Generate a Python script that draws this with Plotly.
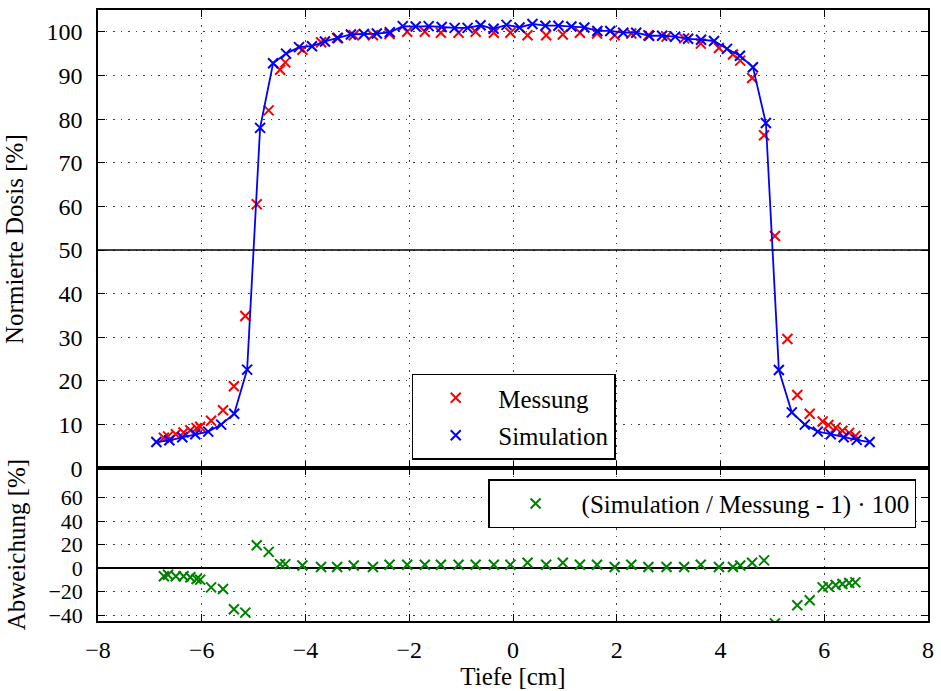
import plotly.graph_objects as go
from plotly.subplots import make_subplots

# ---------------- data ----------------
sim_x = [-6.875, -6.625, -6.375, -6.125, -5.875, -5.625, -5.375, -5.125,
         -4.875, -4.625, -4.375, -4.125, -3.875, -3.625, -3.375, -3.125,
         -2.875, -2.625, -2.375, -2.125, -1.875, -1.625, -1.375, -1.125,
         -0.875, -0.625, -0.375, -0.125,
         0.125, 0.375, 0.625, 0.875, 1.125, 1.375, 1.625, 1.875,
         2.125, 2.375, 2.625, 2.875, 3.125, 3.375, 3.625, 3.875,
         4.125, 4.375, 4.625, 4.875, 5.125, 5.375, 5.625, 5.875,
         6.125, 6.375, 6.625, 6.875]
sim_y = [6.0, 6.4, 7.1, 7.8, 8.4, 10.0, 12.5, 22.6,
         78.0, 92.8, 95.0, 96.5, 96.7, 97.8, 98.6, 99.4,
         99.5, 99.6, 99.9, 101.3, 101.2, 101.3, 101.1, 100.9,
         100.9, 101.5, 100.7, 101.6,
         101.0, 101.8, 101.4, 101.4, 101.2, 101.0, 100.2, 100.2,
         99.8, 99.8, 99.1, 99.1, 98.9, 98.4, 98.2, 97.9,
         96.1, 94.5, 91.9, 79.1, 22.5, 12.8, 10.0, 8.4,
         7.8, 7.1, 6.5, 6.0]

mess_x = [-6.73, -6.65, -6.50, -6.35, -6.22, -6.10, -6.03, -5.82, -5.59, -5.38,
          -5.16, -4.94, -4.71, -4.49, -4.39, -4.06, -3.70, -3.39, -3.07, -2.70,
          -2.38, -2.04, -1.70, -1.39, -1.05, -0.72, -0.37, -0.05,
          0.28, 0.64, 0.96, 1.29, 1.62, 1.96, 2.28, 2.61, 2.96, 3.30,
          3.62, 3.97, 4.24, 4.38, 4.61, 4.84, 5.05, 5.29, 5.48, 5.72,
          5.97, 6.08, 6.22, 6.35, 6.48, 6.60]
mess_y = [7.0, 7.3, 7.8, 8.2, 8.7, 9.2, 9.5, 10.9, 13.3, 18.8,
          34.9, 60.5, 82.0, 91.3, 93.0, 95.9, 97.6, 98.6, 99.2, 99.2,
          99.5, 100.0, 100.0, 99.8, 99.8, 100.0, 99.8, 99.8,
          99.2, 99.2, 99.4, 99.8, 99.6, 99.2, 99.6, 99.2, 98.9, 98.5,
          97.3, 96.3, 94.8, 93.4, 89.4, 76.3, 53.2, 29.6, 16.8, 12.5,
          10.7, 9.9, 9.3, 8.6, 8.1, 7.4]
dev_y = [-6.9, -5.7, -6.9, -6.9, -7.8, -9.2, -9.8, -16.4, -17.8, -35.0,
         -37.9, 19.5, 13.8, 3.4, 3.4, 2.3, 0.9, 0.9, 2.3, 0.9,
         2.9, 2.9, 2.9, 2.9, 2.9, 2.9, 2.9, 2.9,
         4.6, 2.9, 4.6, 2.9, 2.9, 0.9, 2.9, 0.9, 0.9, 0.9,
         2.9, 0.9, 0.9, 2.3, 4.6, 6.6, -47.0, -55.0, -31.6, -27.3,
         -16.4, -15.5, -14.4, -13.5, -12.6, -12.1]

x_ticks = [-8, -6, -4, -2, 0, 2, 4, 6, 8]
dose_ticks = [0, 10, 20, 30, 40, 50, 60, 70, 80, 90, 100]
dev_ticks = [-40, -20, 0, 20, 40, 60]

# ---------------- figure ----------------
FONT = "Liberation Serif, Times New Roman, Times, serif"
fig = make_subplots(rows=2, cols=1, shared_xaxes=True, vertical_spacing=0,
                    row_heights=[0.75, 0.25])

mk = dict(symbol="x-thin", size=10)

fig.add_trace(go.Scatter(x=mess_x, y=mess_y, mode="markers", name="Messung",
                         marker=dict(**mk, color="red", line=dict(color="red", width=2)),
                         legendgroup="a", legend="legend"), row=1, col=1)
fig.add_trace(go.Scatter(x=sim_x, y=sim_y, mode="lines", showlegend=False,
                         line=dict(color="blue", width=1.8)), row=1, col=1)
fig.add_trace(go.Scatter(x=sim_x, y=sim_y, mode="markers", name="Simulation",
                         marker=dict(**mk, color="blue", line=dict(color="blue", width=2)),
                         legendgroup="b", legend="legend"), row=1, col=1)
fig.add_trace(go.Scatter(x=mess_x, y=dev_y, mode="markers",
                         name="(Simulation / Messung - 1) · 100",
                         marker=dict(**mk, color="green", line=dict(color="green", width=2)),
                         legend="legend2"), row=2, col=1)

fig.add_hline(y=50, line=dict(color="black", width=1.6), row=1, col=1)

grid = dict(showgrid=True, gridcolor="rgba(0,0,0,0.75)", gridwidth=1, griddash="1.5px,6px")
axis_common = dict(showline=True, linecolor="black", linewidth=1.6, mirror="ticks",
                   ticks="inside", ticklen=7, tickwidth=1.2, tickcolor="black", **grid)
tickfont = dict(family=FONT, size=24, color="black")
titlefont = dict(family=FONT, size=25, color="black")

fig.update_xaxes(range=[-8, 8], tickvals=x_ticks, zeroline=False, tickfont=tickfont,
                 **axis_common)
fig.update_xaxes(showticklabels=False, row=1, col=1)
fig.update_xaxes(title=dict(text="Tiefe [cm]", font=titlefont, standoff=4),
                 ticklabelstandoff=6, row=2, col=1)

fig.update_yaxes(range=[0, 105], tickvals=dose_ticks, zeroline=False, tickfont=tickfont,
                 title=dict(text="Normierte Dosis [%]", font=titlefont, standoff=16),
                 ticklabelstandoff=9, row=1, col=1, **axis_common)
fig.update_yaxes(range=[-45, 85], tickvals=dev_ticks, zeroline=True,
                 zerolinecolor="black", zerolinewidth=1.6,
                 tickfont=dict(family=FONT, size=22, color="black"),
                 title=dict(text="Abweichung [%]", font=titlefont, standoff=16),
                 ticklabelstandoff=9, row=2, col=1, **axis_common)

legend_common = dict(bgcolor="white", bordercolor="black", borderwidth=1.5,
                     font=dict(family=FONT, size=25, color="black"),
                     xanchor="left", yanchor="top")
fig.update_layout(
    width=941, height=691,
    margin=dict(l=98, r=7, t=10, b=69),
    paper_bgcolor="white", plot_bgcolor="white",
    font=dict(family=FONT, size=24, color="black"),
    legend=dict(x=0.378, y=0.405, traceorder="grouped", tracegroupgap=2,
                itemwidth=75, **legend_common),
    legend2=dict(x=0.470, y=0.232, itemwidth=82, **legend_common),
)

fig.write_html("out.html")
